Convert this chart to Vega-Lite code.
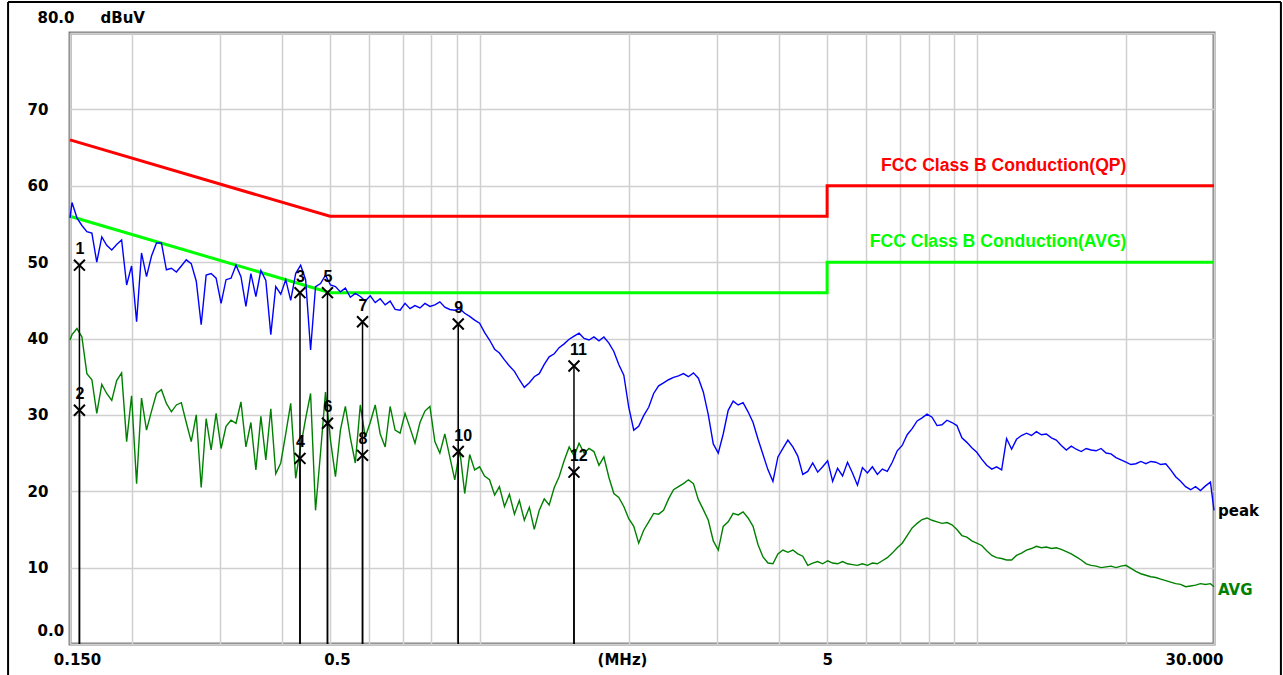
{
  "$schema": "https://vega.github.io/schema/vega-lite/v6.json",
  "width": 1144,
  "height": 611,
  "autosize": {"type": "none"},
  "padding": {"left": 70, "top": 33, "right": 69, "bottom": 31},
  "background": "#ffffff",
  "config": {
    "view": {"stroke": "#808080", "strokeWidth": 3, "fill": "#ffffff"}
  },
  "datasets": {
    "peak": [
      {"f":0.15,"v":55.8},{"f":0.1514,"v":57.8},{"f":0.1549,"v":55.8},{"f":0.1585,"v":54.8},{"f":0.1622,"v":54.0},{"f":0.166,"v":53.8},{"f":0.1698,"v":50.0},{"f":0.1738,"v":53.3},{"f":0.1778,"v":52.2},{"f":0.182,"v":51.6},{"f":0.1862,"v":52.3},{"f":0.1905,"v":52.9},{"f":0.195,"v":47.0},{"f":0.1995,"v":49.5},{"f":0.2042,"v":42.2},{"f":0.2089,"v":51.2},{"f":0.2138,"v":48.1},{"f":0.2188,"v":50.8},{"f":0.2239,"v":52.5},{"f":0.2291,"v":52.5},{"f":0.2344,"v":49.0},{"f":0.2399,"v":49.2},{"f":0.2455,"v":48.7},{"f":0.2512,"v":49.5},{"f":0.257,"v":50.3},{"f":0.263,"v":49.8},{"f":0.2692,"v":47.5},{"f":0.2754,"v":41.8},{"f":0.2818,"v":48.3},{"f":0.2884,"v":48.5},{"f":0.2951,"v":47.9},{"f":0.302,"v":44.6},{"f":0.309,"v":47.7},{"f":0.3162,"v":47.9},{"f":0.3236,"v":49.6},{"f":0.3311,"v":48.1},{"f":0.3388,"v":44.2},{"f":0.3467,"v":48.5},{"f":0.3548,"v":45.5},{"f":0.3631,"v":48.9},{"f":0.3715,"v":47.6},{"f":0.3802,"v":40.5},{"f":0.389,"v":46.8},{"f":0.3981,"v":45.8},{"f":0.4074,"v":47.7},{"f":0.4169,"v":45.0},{"f":0.4266,"v":48.5},{"f":0.4365,"v":49.6},{"f":0.4467,"v":47.7},{"f":0.4571,"v":38.5},{"f":0.4677,"v":46.8},{"f":0.4786,"v":47.2},{"f":0.4898,"v":48.3},{"f":0.5012,"v":47.0},{"f":0.5129,"v":46.8},{"f":0.5248,"v":46.1},{"f":0.537,"v":46.6},{"f":0.5495,"v":45.4},{"f":0.5623,"v":45.9},{"f":0.5754,"v":45.5},{"f":0.5888,"v":44.9},{"f":0.6026,"v":45.6},{"f":0.6166,"v":44.7},{"f":0.631,"v":45.2},{"f":0.6457,"v":44.4},{"f":0.6607,"v":44.9},{"f":0.6761,"v":43.8},{"f":0.6918,"v":43.7},{"f":0.7079,"v":44.6},{"f":0.7244,"v":43.9},{"f":0.7413,"v":44.3},{"f":0.7586,"v":44.0},{"f":0.7762,"v":44.6},{"f":0.7943,"v":44.2},{"f":0.8128,"v":44.4},{"f":0.8318,"v":44.8},{"f":0.8511,"v":44.1},{"f":0.871,"v":43.8},{"f":0.8913,"v":43.7},{"f":0.912,"v":43.9},{"f":0.9333,"v":43.3},{"f":0.955,"v":42.9},{"f":0.9772,"v":42.4},
      {"f":1.0,"v":42.0},{"f":1.023,"v":40.8},{"f":1.047,"v":39.8},{"f":1.072,"v":38.6},{"f":1.096,"v":38.1},{"f":1.122,"v":37.2},{"f":1.148,"v":36.4},{"f":1.175,"v":35.7},{"f":1.202,"v":34.6},{"f":1.23,"v":33.6},{"f":1.259,"v":34.2},{"f":1.288,"v":35.0},{"f":1.318,"v":35.4},{"f":1.349,"v":36.6},{"f":1.38,"v":37.6},{"f":1.413,"v":38.0},{"f":1.445,"v":38.8},{"f":1.479,"v":39.3},{"f":1.514,"v":39.9},{"f":1.549,"v":40.3},{"f":1.585,"v":40.7},{"f":1.622,"v":40.0},{"f":1.66,"v":39.8},{"f":1.698,"v":40.2},{"f":1.738,"v":39.7},{"f":1.778,"v":40.2},{"f":1.82,"v":39.4},{"f":1.862,"v":38.3},{"f":1.905,"v":36.6},{"f":1.95,"v":35.2},{"f":1.995,"v":31.0},{"f":2.042,"v":28.0},{"f":2.089,"v":28.5},{"f":2.138,"v":29.9},{"f":2.188,"v":31.0},{"f":2.239,"v":32.8},{"f":2.291,"v":33.8},{"f":2.344,"v":34.2},{"f":2.399,"v":34.6},{"f":2.455,"v":34.9},{"f":2.512,"v":35.1},{"f":2.57,"v":35.4},{"f":2.63,"v":35.0},{"f":2.692,"v":35.5},{"f":2.754,"v":34.8},{"f":2.818,"v":33.0},{"f":2.884,"v":30.0},{"f":2.951,"v":26.2},{"f":3.02,"v":25.0},{"f":3.09,"v":27.5},{"f":3.162,"v":30.6},{"f":3.236,"v":31.8},{"f":3.311,"v":31.3},{"f":3.388,"v":31.6},{"f":3.467,"v":30.4},{"f":3.548,"v":29.0},{"f":3.631,"v":26.8},{"f":3.715,"v":24.8},{"f":3.802,"v":22.8},{"f":3.89,"v":21.3},{"f":3.981,"v":24.5},{"f":4.074,"v":25.6},{"f":4.169,"v":26.7},{"f":4.266,"v":25.8},{"f":4.365,"v":24.6},{"f":4.467,"v":22.2},{"f":4.571,"v":22.6},{"f":4.677,"v":23.7},{"f":4.786,"v":22.5},{"f":4.898,"v":23.2},{"f":5.012,"v":24.0},{"f":5.129,"v":21.3},{"f":5.248,"v":23.0},{"f":5.37,"v":22.0},{"f":5.495,"v":23.8},{"f":5.623,"v":22.4},{"f":5.754,"v":20.8},{"f":5.888,"v":23.1},{"f":6.026,"v":22.4},{"f":6.166,"v":23.2},{"f":6.31,"v":22.2},{"f":6.457,"v":22.9},{"f":6.607,"v":22.6},{"f":6.761,"v":23.8},{"f":6.918,"v":25.3},{"f":7.079,"v":26.0},{"f":7.244,"v":27.4},{"f":7.413,"v":28.2},{"f":7.586,"v":29.2},{"f":7.762,"v":29.6},{"f":7.943,"v":30.1},{"f":8.128,"v":29.7},{"f":8.318,"v":28.6},{"f":8.511,"v":28.7},{"f":8.71,"v":29.3},{"f":8.913,"v":29.0},{"f":9.12,"v":28.6},{"f":9.333,"v":27.0},{"f":9.55,"v":26.4},{"f":9.772,"v":25.7},
      {"f":10.0,"v":25.1},{"f":10.23,"v":24.2},{"f":10.47,"v":23.4},{"f":10.72,"v":22.9},{"f":10.96,"v":23.2},{"f":11.22,"v":22.8},{"f":11.48,"v":26.9},{"f":11.75,"v":25.5},{"f":12.02,"v":26.8},{"f":12.3,"v":27.3},{"f":12.59,"v":27.6},{"f":12.88,"v":27.3},{"f":13.18,"v":27.8},{"f":13.49,"v":27.4},{"f":13.8,"v":27.5},{"f":14.13,"v":27.0},{"f":14.45,"v":26.7},{"f":14.79,"v":26.0},{"f":15.14,"v":25.4},{"f":15.49,"v":25.9},{"f":15.85,"v":25.5},{"f":16.22,"v":25.2},{"f":16.6,"v":25.6},{"f":16.98,"v":25.4},{"f":17.38,"v":25.3},{"f":17.78,"v":25.6},{"f":18.2,"v":25.0},{"f":18.62,"v":24.9},{"f":19.05,"v":24.4},{"f":19.5,"v":24.1},{"f":19.95,"v":23.8},{"f":20.42,"v":23.5},{"f":20.89,"v":23.6},{"f":21.38,"v":23.9},{"f":21.88,"v":23.6},{"f":22.39,"v":23.9},{"f":22.91,"v":23.8},{"f":23.44,"v":23.5},{"f":23.99,"v":23.6},{"f":24.55,"v":22.8},{"f":25.12,"v":21.9},{"f":25.7,"v":21.3},{"f":26.3,"v":20.6},{"f":26.92,"v":20.2},{"f":27.54,"v":20.6},{"f":28.18,"v":20.1},{"f":28.84,"v":20.7},{"f":29.51,"v":21.2},{"f":30,"v":17.5}
    ],
    "avg": [
      {"f":0.15,"v":39.8},{"f":0.1514,"v":40.5},{"f":0.1549,"v":41.3},{"f":0.1585,"v":40.2},{"f":0.1622,"v":35.4},{"f":0.166,"v":34.6},{"f":0.1698,"v":30.2},{"f":0.1738,"v":34.0},{"f":0.1778,"v":32.8},{"f":0.182,"v":31.9},{"f":0.1862,"v":34.5},{"f":0.1905,"v":35.5},{"f":0.195,"v":26.5},{"f":0.1995,"v":32.5},{"f":0.2042,"v":21.0},{"f":0.2089,"v":32.2},{"f":0.2138,"v":28.0},{"f":0.2188,"v":30.5},{"f":0.2239,"v":32.8},{"f":0.2291,"v":33.3},{"f":0.2344,"v":31.5},{"f":0.2399,"v":30.4},{"f":0.2455,"v":31.3},{"f":0.2512,"v":31.6},{"f":0.257,"v":29.0},{"f":0.263,"v":26.5},{"f":0.2692,"v":30.0},{"f":0.2754,"v":20.5},{"f":0.2818,"v":29.5},{"f":0.2884,"v":25.4},{"f":0.2951,"v":30.2},{"f":0.302,"v":25.6},{"f":0.309,"v":28.5},{"f":0.3162,"v":29.3},{"f":0.3236,"v":28.9},{"f":0.3311,"v":31.7},{"f":0.3388,"v":25.8},{"f":0.3467,"v":29.0},{"f":0.3548,"v":22.8},{"f":0.3631,"v":29.8},{"f":0.3715,"v":24.1},{"f":0.3802,"v":30.8},{"f":0.389,"v":22.3},{"f":0.3981,"v":23.7},{"f":0.4074,"v":27.5},{"f":0.4169,"v":31.5},{"f":0.4266,"v":21.7},{"f":0.4365,"v":25.8},{"f":0.4467,"v":29.5},{"f":0.4571,"v":32.8},{"f":0.4677,"v":17.5},{"f":0.4786,"v":25.0},{"f":0.4898,"v":33.0},{"f":0.5012,"v":26.7},{"f":0.5129,"v":21.9},{"f":0.5248,"v":28.0},{"f":0.537,"v":31.1},{"f":0.5495,"v":27.0},{"f":0.5623,"v":23.7},{"f":0.5754,"v":31.3},{"f":0.5888,"v":27.1},{"f":0.6026,"v":29.0},{"f":0.6166,"v":31.3},{"f":0.631,"v":27.5},{"f":0.6457,"v":25.8},{"f":0.6607,"v":31.1},{"f":0.6761,"v":28.0},{"f":0.6918,"v":27.6},{"f":0.7079,"v":30.2},{"f":0.7244,"v":28.3},{"f":0.7413,"v":26.3},{"f":0.7586,"v":29.0},{"f":0.7762,"v":30.5},{"f":0.7943,"v":31.1},{"f":0.8128,"v":26.5},{"f":0.8318,"v":25.0},{"f":0.8511,"v":27.5},{"f":0.871,"v":24.5},{"f":0.8913,"v":21.5},{"f":0.912,"v":25.4},{"f":0.9333,"v":19.7},{"f":0.955,"v":24.8},{"f":0.9772,"v":22.8},
      {"f":1.0,"v":23.2},{"f":1.023,"v":22.0},{"f":1.047,"v":21.5},{"f":1.072,"v":19.5},{"f":1.096,"v":20.6},{"f":1.122,"v":18.0},{"f":1.148,"v":19.6},{"f":1.175,"v":17.0},{"f":1.202,"v":18.8},{"f":1.23,"v":16.2},{"f":1.259,"v":17.9},{"f":1.288,"v":15.0},{"f":1.318,"v":17.5},{"f":1.349,"v":19.0},{"f":1.38,"v":18.2},{"f":1.413,"v":20.5},{"f":1.445,"v":21.9},{"f":1.479,"v":24.0},{"f":1.514,"v":25.8},{"f":1.549,"v":24.6},{"f":1.585,"v":26.3},{"f":1.622,"v":25.0},{"f":1.66,"v":25.6},{"f":1.698,"v":25.2},{"f":1.738,"v":23.4},{"f":1.778,"v":24.5},{"f":1.82,"v":21.8},{"f":1.862,"v":19.7},{"f":1.905,"v":19.2},{"f":1.95,"v":18.0},{"f":1.995,"v":16.4},{"f":2.042,"v":15.4},{"f":2.089,"v":13.2},{"f":2.138,"v":14.9},{"f":2.188,"v":16.0},{"f":2.239,"v":17.1},{"f":2.291,"v":17.0},{"f":2.344,"v":17.5},{"f":2.399,"v":19.0},{"f":2.455,"v":20.2},{"f":2.512,"v":20.6},{"f":2.57,"v":21.0},{"f":2.63,"v":21.5},{"f":2.692,"v":21.0},{"f":2.754,"v":18.9},{"f":2.818,"v":17.6},{"f":2.884,"v":16.2},{"f":2.951,"v":13.5},{"f":3.02,"v":12.3},{"f":3.09,"v":15.4},{"f":3.162,"v":16.0},{"f":3.236,"v":17.1},{"f":3.311,"v":16.9},{"f":3.388,"v":17.3},{"f":3.467,"v":16.5},{"f":3.548,"v":15.4},{"f":3.631,"v":13.0},{"f":3.715,"v":11.4},{"f":3.802,"v":10.6},{"f":3.89,"v":10.5},{"f":3.981,"v":11.8},{"f":4.074,"v":12.3},{"f":4.169,"v":12.0},{"f":4.266,"v":12.3},{"f":4.365,"v":11.8},{"f":4.467,"v":11.5},{"f":4.571,"v":10.3},{"f":4.677,"v":10.6},{"f":4.786,"v":10.8},{"f":4.898,"v":10.5},{"f":5.012,"v":10.9},{"f":5.129,"v":10.6},{"f":5.248,"v":10.5},{"f":5.37,"v":10.8},{"f":5.495,"v":10.5},{"f":5.623,"v":10.4},{"f":5.754,"v":10.3},{"f":5.888,"v":10.5},{"f":6.026,"v":10.3},{"f":6.166,"v":10.6},{"f":6.31,"v":10.5},{"f":6.457,"v":10.9},{"f":6.607,"v":11.3},{"f":6.761,"v":11.9},{"f":6.918,"v":12.6},{"f":7.079,"v":13.2},{"f":7.244,"v":14.2},{"f":7.413,"v":15.2},{"f":7.586,"v":15.8},{"f":7.762,"v":16.3},{"f":7.943,"v":16.5},{"f":8.128,"v":16.2},{"f":8.318,"v":16.0},{"f":8.511,"v":15.8},{"f":8.71,"v":15.9},{"f":8.913,"v":15.6},{"f":9.12,"v":15.0},{"f":9.333,"v":14.2},{"f":9.55,"v":14.0},{"f":9.772,"v":13.5},
      {"f":10.0,"v":13.2},{"f":10.23,"v":12.9},{"f":10.47,"v":12.2},{"f":10.72,"v":11.6},{"f":10.96,"v":11.3},{"f":11.22,"v":11.2},{"f":11.48,"v":11.0},{"f":11.75,"v":11.0},{"f":12.02,"v":11.6},{"f":12.3,"v":11.9},{"f":12.59,"v":12.3},{"f":12.88,"v":12.5},{"f":13.18,"v":12.8},{"f":13.49,"v":12.6},{"f":13.8,"v":12.7},{"f":14.13,"v":12.5},{"f":14.45,"v":12.6},{"f":14.79,"v":12.4},{"f":15.14,"v":12.1},{"f":15.49,"v":11.8},{"f":15.85,"v":11.4},{"f":16.22,"v":11.0},{"f":16.6,"v":10.5},{"f":16.98,"v":10.3},{"f":17.38,"v":10.2},{"f":17.78,"v":10.0},{"f":18.2,"v":10.1},{"f":18.62,"v":10.2},{"f":19.05,"v":10.0},{"f":19.5,"v":10.2},{"f":19.95,"v":10.3},{"f":20.42,"v":9.9},{"f":20.89,"v":9.5},{"f":21.38,"v":9.2},{"f":21.88,"v":9.0},{"f":22.39,"v":8.8},{"f":22.91,"v":8.7},{"f":23.44,"v":8.5},{"f":23.99,"v":8.3},{"f":24.55,"v":8.1},{"f":25.12,"v":7.9},{"f":25.7,"v":7.8},{"f":26.3,"v":7.5},{"f":26.92,"v":7.6},{"f":27.54,"v":7.7},{"f":28.18,"v":7.9},{"f":28.84,"v":7.8},{"f":29.51,"v":7.9},{"f":30,"v":7.5}
    ],
    "qp": [
      {"i":1,"f":0.15,"v":66},{"i":2,"f":0.5,"v":56},{"i":3,"f":5,"v":56},{"i":4,"f":5,"v":60},{"i":5,"f":30,"v":60}
    ],
    "avglimit": [
      {"i":1,"f":0.15,"v":56},{"i":2,"f":0.5,"v":46},{"i":3,"f":5,"v":46},{"i":4,"f":5,"v":50},{"i":5,"f":30,"v":50}
    ],
    "markers": [
      {"n":"1","f":0.1567,"v":49.6},{"n":"2","f":0.1567,"v":30.6},
      {"n":"3","f":0.4352,"v":46.0},{"n":"4","f":0.4352,"v":24.3},
      {"n":"5","f":0.4943,"v":46.0},{"n":"6","f":0.4943,"v":28.9},
      {"n":"7","f":0.5814,"v":42.2},{"n":"8","f":0.5814,"v":24.7},
      {"n":"9","f":0.9058,"v":41.9},{"n":"10","f":0.9058,"v":25.2},
      {"n":"11","f":1.548,"v":36.4},{"n":"12","f":1.548,"v":22.5}
    ]
  },
  "encoding": {
    "x": {
      "field": "f",
      "type": "quantitative",
      "scale": {"type": "log", "domain": [0.15, 30], "nice": false, "zero": false},
      "axis": {
        "title": "(MHz)",
        "titleX": 552,
        "titleY": 8,
        "titleAlign": "center",
        "titleBaseline": "top",
        "titleFont": "DejaVu Sans",
        "titleFontSize": 15,
        "titleFontWeight": "bold",
        "titleColor": "#000000",
        "values": [0.15, 0.2, 0.3, 0.4, 0.5, 0.6, 0.7, 0.8, 0.9, 1, 2, 3, 4, 5, 6, 7, 8, 9, 10, 20, 30],
        "labelExpr": "datum.value == 0.15 ? '0.150' : datum.value == 0.5 ? '0.5' : datum.value == 5 ? '5' : datum.value == 30 ? '30.000' : ''",
        "labelFont": "DejaVu Sans",
        "labelFontSize": 15,
        "labelFontWeight": "bold",
        "labelColor": "#000000",
        "labelPadding": 8,
        "labelOffset": {"condition": [{"test": "datum.value == 0.15", "value": 7}, {"test": "datum.value == 0.5", "value": 7}, {"test": "datum.value == 30", "value": -20}], "value": 0},
        "labelOverlap": false,
        "labelBound": false,
        "labelFlush": false,
        "ticks": false,
        "tickSize": 0,
        "domain": false,
        "grid": true,
        "gridColor": "#d0d0d0",
        "gridWidth": 1.5
      }
    },
    "y": {
      "field": "v",
      "type": "quantitative",
      "scale": {"domain": [0, 80], "nice": false, "zero": false},
      "axis": {
        "title": "dBuV",
        "titleAngle": 0,
        "titleX": 30,
        "titleY": -16,
        "titleAlign": "left",
        "titleBaseline": "middle",
        "titleFont": "DejaVu Sans",
        "titleFontSize": 15,
        "titleFontWeight": "bold",
        "titleColor": "#000000",
        "values": [0, 10, 20, 30, 40, 50, 60, 70, 80],
        "labelExpr": "datum.value == 0 ? '0.0' : datum.value == 80 ? '80.0' : datum.label",
        "labelFont": "DejaVu Sans",
        "labelFontSize": 15,
        "labelFontWeight": "bold",
        "labelColor": "#000000",
        "labelAlign": "left",
        "labelBaseline": "middle",
        "labelPadding": {"condition": {"test": "datum.value == 0 || datum.value == 80", "value": 33}, "value": 43},
        "labelOffset": {"condition": [{"test": "datum.value == 0", "value": -14}, {"test": "datum.value == 80", "value": -16}], "value": 0},
        "labelOverlap": false,
        "labelBound": false,
        "labelFlush": false,
        "ticks": false,
        "tickSize": 0,
        "domain": false,
        "grid": true,
        "gridColor": "#d0d0d0",
        "gridWidth": 1.5
      }
    }
  },
  "layer": [
    {
      "data": {"name": "qp"},
      "mark": {"type": "line", "color": "#ff0000", "strokeWidth": 3, "strokeJoin": "miter"},
      "encoding": {"order": {"field": "i", "type": "quantitative"}}
    },
    {
      "data": {"name": "avglimit"},
      "mark": {"type": "line", "color": "#00ff00", "strokeWidth": 3, "strokeJoin": "miter"},
      "encoding": {"order": {"field": "i", "type": "quantitative"}}
    },
    {
      "data": {"name": "peak"},
      "mark": {"type": "line", "color": "#0000ff", "strokeWidth": 1.4, "interpolate": "linear"},
      "encoding": {}
    },
    {
      "data": {"name": "avg"},
      "mark": {"type": "line", "color": "#008000", "strokeWidth": 1.4, "interpolate": "linear"},
      "encoding": {}
    },
    {
      "data": {"name": "markers"},
      "mark": {"type": "rule", "color": "#000000", "strokeWidth": 1.5},
      "encoding": {"y2": {"datum": 0}}
    },
    {
      "data": {"name": "markers"},
      "mark": {"type": "point", "shape": "M-1,-1L1,1M-1,1L1,-1", "size": 120, "filled": false, "stroke": "#000000", "strokeWidth": 2, "opacity": 1},
      "encoding": {}
    },
    {
      "data": {"name": "markers"},
      "mark": {"type": "text", "align": "left", "baseline": "middle", "dx": -4, "dy": -16, "font": "Liberation Sans", "fontSize": 16, "fontWeight": "bold", "color": "#000000"},
      "encoding": {"text": {"field": "n", "type": "nominal"}}
    },
    {
      "data": {"values": [{"t": "FCC Class B Conduction(QP)", "f": 20, "v": 62.6}]},
      "mark": {"type": "text", "align": "right", "baseline": "middle", "font": "Liberation Sans", "fontSize": 17.6, "fontWeight": "bold", "color": "#ff0000"},
      "encoding": {"text": {"field": "t", "type": "nominal"}}
    },
    {
      "data": {"values": [{"t": "FCC Class B Conduction(AVG)", "f": 20, "v": 52.6}]},
      "mark": {"type": "text", "align": "right", "baseline": "middle", "font": "Liberation Sans", "fontSize": 17.6, "fontWeight": "bold", "color": "#00ff00"},
      "encoding": {"text": {"field": "t", "type": "nominal"}}
    },
    {
      "data": {"values": [{"t": "peak", "f": 30, "v": 17.4}]},
      "mark": {"type": "text", "align": "left", "baseline": "middle", "dx": 4, "font": "DejaVu Sans", "fontSize": 15, "fontWeight": "bold", "color": "#000000"},
      "encoding": {"text": {"field": "t", "type": "nominal"}}
    },
    {
      "data": {"values": [{"t": "AVG", "f": 30, "v": 7.1}]},
      "mark": {"type": "text", "align": "left", "baseline": "middle", "dx": 4, "font": "DejaVu Sans", "fontSize": 15, "fontWeight": "bold", "color": "#008000"},
      "encoding": {"text": {"field": "t", "type": "nominal"}}
    },
    {
      "data": {"values": [{"side": "left", "f": 0.1126, "f2": 0.1126, "v": 84.06, "v2": -5}, {"side": "top", "f": 0.1126, "f2": 40.9, "v": 84.06, "v2": 84.06}, {"side": "right", "f": 40.9, "f2": 40.9, "v": 84.06, "v2": -5}]},
      "mark": {"type": "rule", "color": "#000000", "strokeWidth": 2, "clip": false},
      "encoding": {"x2": {"field": "f2"}, "y2": {"field": "v2"}}
    }
  ]
}
